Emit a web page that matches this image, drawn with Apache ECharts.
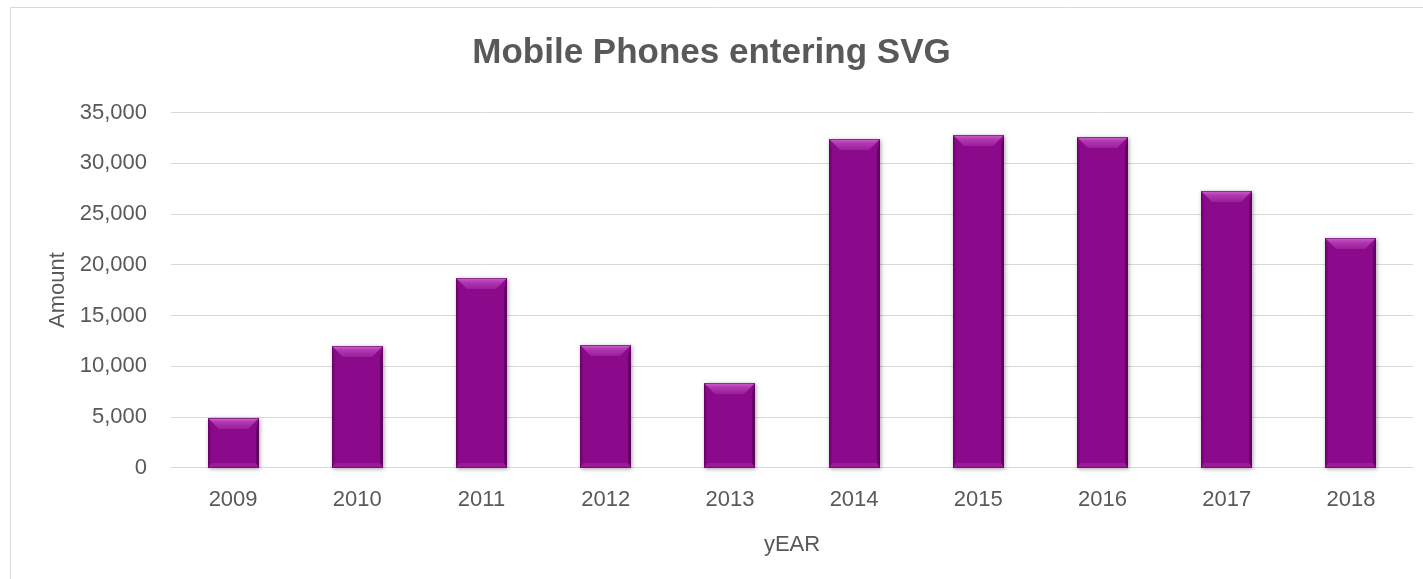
<!DOCTYPE html>
<html>
<head>
<meta charset="utf-8">
<script src="https://cdn.jsdelivr.net/npm/echarts@6/dist/echarts.min.js"></script>
<style>
html,body{margin:0;padding:0;background:#fff;}
#chart{width:1423px;height:579px;}
</style>
</head>
<body>
<div id="chart"></div>
<script>
const titleText = "Mobile Phones entering SVG";
const xAxisName = "yEAR";
const yAxisName = "Amount";
const years = ["2009","2010","2011","2012","2013","2014","2015","2016","2017","2018"];
const amounts = [4900, 12000, 18700, 12100, 8300, 32400, 32800, 32600, 27300, 22600];
const yTicks = [0, 5000, 10000, 15000, 20000, 25000, 30000, 35000];

const chart = echarts.init(document.getElementById('chart'), null, {renderer:'canvas'});
const FONT = "'Liberation Sans', Arial, sans-serif";
const TXT = '#595959';

function renderBar(params, api){
  const idx = api.value(0);
  const val = api.value(1);
  const top = api.coord([idx, val]);
  const bot = api.coord([idx, 0]);
  const band = api.size([1, 0])[0];
  const w = Math.round(band * 0.41);
  const x0 = Math.round(top[0] - w/2);
  const x1 = x0 + w;
  const y0 = Math.round(top[1]);
  const y1 = Math.round(bot[1]);
  const h = y1 - y0;
  const b = Math.min(11, h/2);
  const s = 3;
  const bb = Math.min(5, h/4);
  return {
    type:'group',
    children:[
      {type:'rect', shape:{x:x0, y:y0, width:w, height:h},
       style:{fill:'#8B0A8B', shadowBlur:4, shadowOffsetX:1, shadowOffsetY:1, shadowColor:'rgba(0,0,0,0.35)'}},
      {type:'polygon', shape:{points:[[x0,y0],[x0+s,y0+b],[x0+s,y1-bb],[x0,y1]]},
       style:{fill:'#7C047C'}},
      {type:'polygon', shape:{points:[[x1,y0],[x1-s,y0+b],[x1-s,y1-bb],[x1,y1]]},
       style:{fill:'#650065'}},
      {type:'polygon', shape:{points:[[x0,y1],[x0+s,y1-bb],[x1-s,y1-bb],[x1,y1]]},
       style:{fill:'#9A1A9A'}},
      {type:'polygon', shape:{points:[[x0,y0],[x1,y0],[x1-b,y0+b],[x0+b,y0+b]]},
       style:{fill:new echarts.graphic.LinearGradient(0,0,0,1,[
         {offset:0, color:'#D064D0'},
         {offset:0.35, color:'#B33AB3'},
         {offset:1, color:'#9A1E9A'}
       ])}},
      {type:'rect', shape:{x:x0+0.5, y:y0+0.5, width:w-1, height:h-1},
       style:{fill:null, stroke:'rgba(90,0,90,0.55)', lineWidth:1}}
    ]
  };
}

const option = {
  backgroundColor:'#fff',
  animation:false,
  graphic:[{
    type:'rect', z:-10, silent:true,
    shape:{x:10.5, y:7.5, width:1430, height:600},
    style:{fill:null, stroke:'#d9d9d9', lineWidth:1}
  }],
  title:{
    text:titleText,
    left:'center',
    top:31,
    textStyle:{fontFamily:FONT, fontSize:35, fontWeight:'bold', color:TXT}
  },
  grid:{left:171, right:10, top:112.5, bottom:111.3, containLabel:false},
  xAxis:{
    type:'category',
    data:years,
    name:xAxisName,
    nameLocation:'middle',
    nameGap:66,
    nameTextStyle:{fontFamily:FONT, fontSize:22, color:TXT},
    axisLine:{show:true, lineStyle:{color:'#d9d9d9', width:1}},
    axisTick:{show:false},
    axisLabel:{fontFamily:FONT, fontSize:22, color:TXT, margin:21}
  },
  yAxis:{
    type:'value',
    min:yTicks[0],
    max:yTicks[yTicks.length-1],
    interval:5000,
    name:yAxisName,
    nameLocation:'middle',
    nameGap:98,
    nameRotate:90,
    nameTextStyle:{fontFamily:FONT, fontSize:22, color:TXT},
    axisLine:{show:false},
    axisTick:{show:false},
    splitLine:{lineStyle:{color:'#d9d9d9', width:1}},
    axisLabel:{fontFamily:FONT, fontSize:22, color:TXT, margin:24,
      formatter:v => v.toLocaleString('en-US')}
  },
  series:[{
    type:'custom',
    renderItem:renderBar,
    encode:{x:0, y:1},
    data:amounts.map((v,i)=>[i, v])
  }]
};
chart.setOption(option);
</script>
</body>
</html>
